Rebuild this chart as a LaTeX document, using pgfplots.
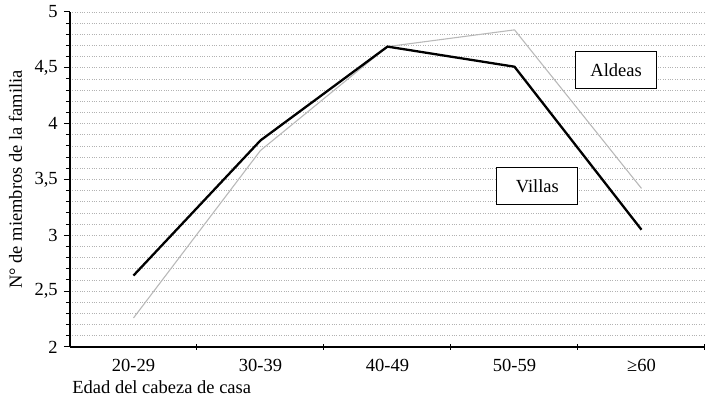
\documentclass[border=0pt]{standalone}
\usepackage{pgfplots}
\pgfplotsset{compat=1.18}
\usepackage{fontspec}
\setmainfont{Liberation Serif}
\begin{document}
\fontsize{18.5}{21}\selectfont
\begin{tikzpicture}
\begin{axis}[
  scale only axis, width=635pt, height=335pt,
  xmin=-0.5, xmax=4.5, ymin=2, ymax=5,
  axis lines=left, axis line style={line width=1.4pt,-},
  /pgf/number format/assume math mode=true,
  /pgf/number format/use comma,
  ytick={2,2.5,...,5}, minor y tick num=4,
  yticklabels={2,{2,5},3,{3,5},4,{4,5},5},
  ymajorgrids, yminorgrids,
  major grid style={dotted, gray!60, line width=0.7pt},
  minor grid style={dotted, gray!60, line width=0.7pt},
  y tick style={black, line width=1pt},
  ytick align=outside,
  xtick align=center,
  major tick length=6pt, minor tick length=4pt,
  xtick={0.5,1.5,2.5,3.5,4.5}, xticklabels={},
  x tick style={black, line width=1pt},
  extra x ticks={0,1,2,3,4},
  extra x tick labels={20-29,30-39,40-49,50-59,≥60},
  extra x tick style={major tick length=0pt},
  xticklabel style={yshift=-6pt},
  xlabel={Edad del cabeza de casa},
  xlabel style={at={(axis description cs:0,0)}, anchor=north west, yshift=-27pt, xshift=-4pt},
  ylabel={N° de miembros de la familia},
  ylabel style={yshift=0pt},
  clip=false,
]
\addplot[gray!55, line width=1.1pt] coordinates {(0,2.26) (1,3.76) (2,4.69) (3,4.84) (4,3.42)};
\addplot[black, line width=2.3pt] coordinates {(0,2.64) (1,3.85) (2,4.69) (3,4.51) (4,3.05)};
\node[draw, line width=1.2pt, fill=white, minimum width=81pt, minimum height=37pt] at (axis cs:3.80,4.48) {Aldeas};
\node[draw, line width=1.2pt, fill=white, minimum width=81pt, minimum height=37pt] at (axis cs:3.18,3.44) {Villas};
\coordinate (sw) at (rel axis cs:0,0);
\end{axis}
\pgfresetboundingbox
\path (sw) ++(-70pt,-54pt) rectangle ++(705pt,401pt);
\end{tikzpicture}
\end{document}
